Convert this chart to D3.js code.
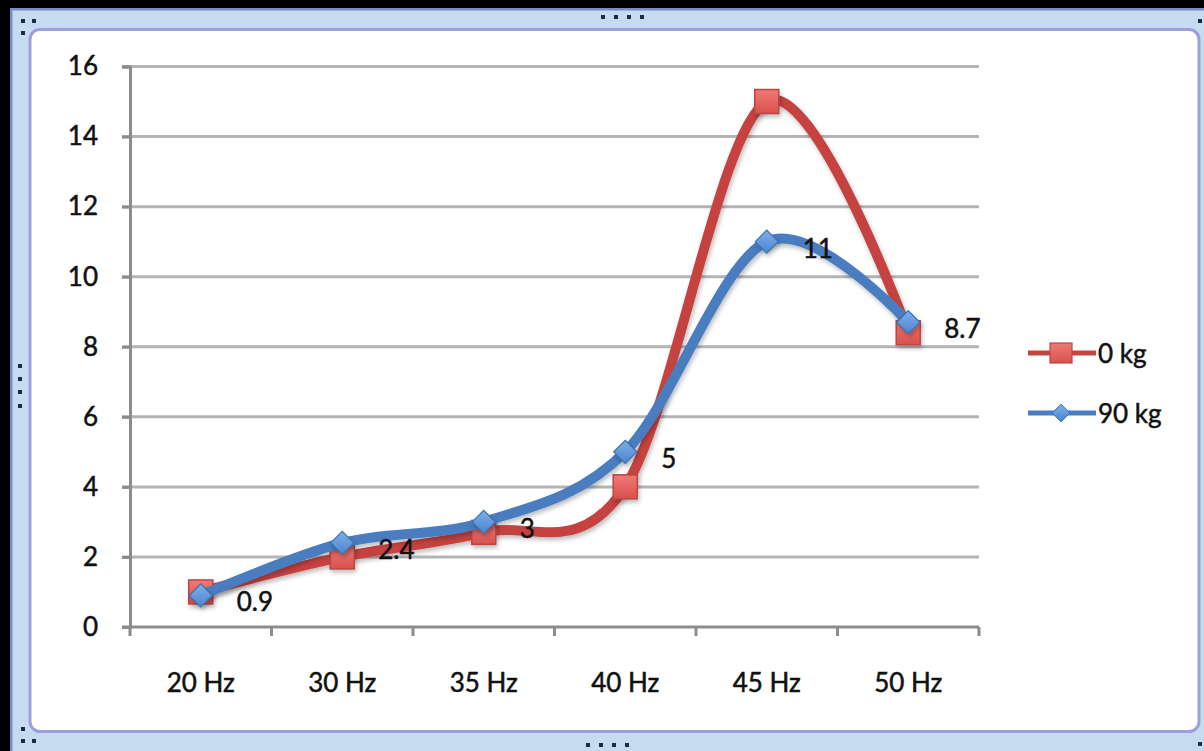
<!DOCTYPE html>
<html>
<head>
<meta charset="utf-8">
<script src="https://cdn.jsdelivr.net/npm/d3@7"></script>
<style>
  html, body { margin: 0; padding: 0; background: #000; }
  svg { display: block; }
  text { font-family: Lato, "Open Sans", sans-serif; fill: #111; stroke: #111; stroke-width: 0.5px; }
</style>
</head>
<body>
<script>
// Frequency categories along the x axis
const categories = ["20 Hz", "30 Hz", "35 Hz", "40 Hz", "45 Hz", "50 Hz"];
// Series values
const load0 = [1, 2, 2.7, 4, 15, 8.4];
const load90 = [0.9, 2.4, 3, 5, 11, 8.7];
const seriesNames = ["0 kg", "90 kg"];
// Value labels shown next to the 90 kg points
const labels90 = ["0.9", "2.4", "3", "5", "11", "8.7"];
const yTicks = [0, 2, 4, 6, 8, 10, 12, 14, 16];

const W = 1204, H = 751;
const FONT = 26;
const svg = d3.select("body").append("svg").attr("width", W).attr("height", H);
const defs = svg.append("defs");

// ---- chart frame (selected-chart style border) ----
svg.append("rect").attr("x", 0).attr("y", 0).attr("width", W).attr("height", H).attr("fill", "#000");
svg.append("rect").attr("x", 10).attr("y", 8).attr("width", W - 10).attr("height", H - 8)
  .attr("fill", "#c6daf0");
svg.append("rect").attr("x", 10).attr("y", 8).attr("width", W - 10).attr("height", 2.5).attr("fill", "#7e8cc6");
svg.append("rect").attr("x", 10).attr("y", 8).attr("width", 2.5).attr("height", H - 8).attr("fill", "#7e8cc6");
svg.append("rect").attr("x", 30).attr("y", 29.5).attr("width", 1199 - 30).attr("height", 731.5 - 29.5)
  .attr("rx", 10).attr("fill", "#fff").attr("stroke", "#9aa0dc").attr("stroke-width", 3);

// sizing handles
const handles = [
  [21, 19], [32, 19], [21, 31],
  [601, 15], [614, 15], [627, 15], [640, 15],
  [18, 364], [18, 377], [18, 390], [18, 404],
  [1198, 19],
  [21, 727], [21, 739], [32, 739],
  [586, 743], [599, 743], [612, 743], [625, 743],
  [1198, 742]
];
svg.append("g").selectAll("rect").data(handles).join("rect")
  .attr("x", d => d[0]).attr("y", d => d[1]).attr("width", 4).attr("height", 4)
  .attr("fill", "#1b2a4a");

// ---- plot area ----
const plot = { left: 130, right: 979, top: 66.5, bottom: 627 };
const x = d3.scaleBand().domain(categories).range([plot.left, plot.right]);
const y = d3.scaleLinear().domain([0, 16]).range([plot.bottom, plot.top]);
const cx = c => x(c) + x.bandwidth() / 2;

// horizontal gridlines with short ticks to the left of the axis
svg.append("g").selectAll("line").data(yTicks.filter(t => t > 0)).join("line")
  .attr("x1", plot.left - 8).attr("x2", plot.right)
  .attr("y1", d => y(d)).attr("y2", d => y(d))
  .attr("stroke", "#b4b4b4").attr("stroke-width", 3);

// y axis
const yAxis = svg.append("g").attr("transform", `translate(${plot.left},0)`)
  .call(d3.axisLeft(y).tickValues(yTicks).tickSize(8).tickPadding(24));
yAxis.select(".domain").attr("stroke", "#8c8c8c").attr("stroke-width", 3);
yAxis.selectAll(".tick line").attr("stroke", "#8c8c8c").attr("stroke-width", 3);
yAxis.selectAll(".tick text").attr("font-size", FONT).attr("font-family", "Lato, sans-serif")
  .attr("fill", "#111");

// x axis: ticks sit on the category boundaries
const xAxisG = svg.append("g").attr("transform", `translate(0,${plot.bottom})`);
xAxisG.append("line").attr("x1", plot.left - 8).attr("x2", plot.right)
  .attr("y1", 0).attr("y2", 0).attr("stroke", "#8c8c8c").attr("stroke-width", 3);
const boundaries = categories.map(c => x(c)).concat([plot.right]);
xAxisG.selectAll("line.tk").data(boundaries).join("line").attr("class", "tk")
  .attr("x1", d => d).attr("x2", d => d).attr("y1", 0).attr("y2", 9)
  .attr("stroke", "#8c8c8c").attr("stroke-width", 3);
xAxisG.selectAll("text").data(categories).join("text")
  .attr("x", d => cx(d)).attr("y", 65).attr("text-anchor", "middle")
  .attr("font-size", FONT).text(d => d);

// ---- series ----
const curve = d3.curveCardinal.tension(0);
const line = d3.line().curve(curve).x((d, i) => cx(categories[i])).y(d => y(d));

const blur = defs.append("filter").attr("id", "shadow").attr("x", "-50%").attr("y", "-50%")
  .attr("width", "200%").attr("height", "200%");
blur.append("feDropShadow").attr("dx", 1.5).attr("dy", 3).attr("stdDeviation", 2)
  .attr("flood-color", "#000").attr("flood-opacity", 0.25);

const redGrad = defs.append("linearGradient").attr("id", "redGrad").attr("x1", 0).attr("y1", 0).attr("x2", 0).attr("y2", 1);
redGrad.append("stop").attr("offset", "0%").attr("stop-color", "#f07a76");
redGrad.append("stop").attr("offset", "100%").attr("stop-color", "#d9504c");
const blueGrad = defs.append("linearGradient").attr("id", "blueGrad").attr("x1", 0).attr("y1", 0).attr("x2", 0).attr("y2", 1);
blueGrad.append("stop").attr("offset", "0%").attr("stop-color", "#7cb0ea");
blueGrad.append("stop").attr("offset", "100%").attr("stop-color", "#4d84cf");

const red = "#c6433f", blue = "#4a7dc0";
const diamond = d3.symbol().type(d3.symbolDiamond2);

// 0 kg line and square markers
svg.append("path").datum(load0).attr("d", line).attr("fill", "none")
  .attr("stroke", red).attr("stroke-width", 10).attr("stroke-linejoin", "round")
  .attr("filter", "url(#shadow)");
svg.append("g").selectAll("rect").data(load0).join("rect")
  .attr("x", (d, i) => cx(categories[i]) - 12).attr("y", d => y(d) - 12)
  .attr("width", 24).attr("height", 24)
  .attr("fill", "url(#redGrad)").attr("stroke", "#b94643").attr("stroke-width", 1.5)
  .attr("filter", "url(#shadow)");

// 90 kg line and diamond markers
svg.append("path").datum(load90).attr("d", line).attr("fill", "none")
  .attr("stroke", blue).attr("stroke-width", 10).attr("stroke-linejoin", "round")
  .attr("filter", "url(#shadow)");
svg.append("g").selectAll("path").data(load90).join("path")
  .attr("d", diamond.size(340))
  .attr("transform", (d, i) => `translate(${cx(categories[i])},${y(d)})`)
  .attr("fill", "url(#blueGrad)").attr("stroke", "#3f70b0").attr("stroke-width", 1.2)
  .attr("filter", "url(#shadow)");

// value labels for 90 kg
svg.append("g").selectAll("text").data(load90).join("text")
  .attr("x", (d, i) => cx(categories[i]) + 36)
  .attr("y", d => y(d) + 16)
  .attr("font-size", FONT).attr("fill", "#000")
  .text((d, i) => labels90[i]);

// ---- legend ----
const legend = svg.append("g");
const legendRows = [
  { name: seriesNames[0], color: red, y: 353, marker: "square" },
  { name: seriesNames[1], color: blue, y: 413, marker: "diamond" }
];
legendRows.forEach(r => {
  legend.append("line").attr("x1", 1028).attr("x2", 1096).attr("y1", r.y).attr("y2", r.y)
    .attr("stroke", r.color).attr("stroke-width", 5);
  if (r.marker === "square") {
    legend.append("rect").attr("x", 1050).attr("y", r.y - 10).attr("width", 22).attr("height", 20)
      .attr("fill", "url(#redGrad)").attr("stroke", "#b94643").attr("stroke-width", 1.2);
  } else {
    legend.append("path").attr("d", diamond.size(200))
      .attr("transform", `translate(1061,${r.y})`)
      .attr("fill", "url(#blueGrad)").attr("stroke", "#3f70b0").attr("stroke-width", 1);
  }
  legend.append("text").attr("x", 1098).attr("y", r.y + 10).attr("font-size", FONT).text(r.name);
});
</script>
</body>
</html>
